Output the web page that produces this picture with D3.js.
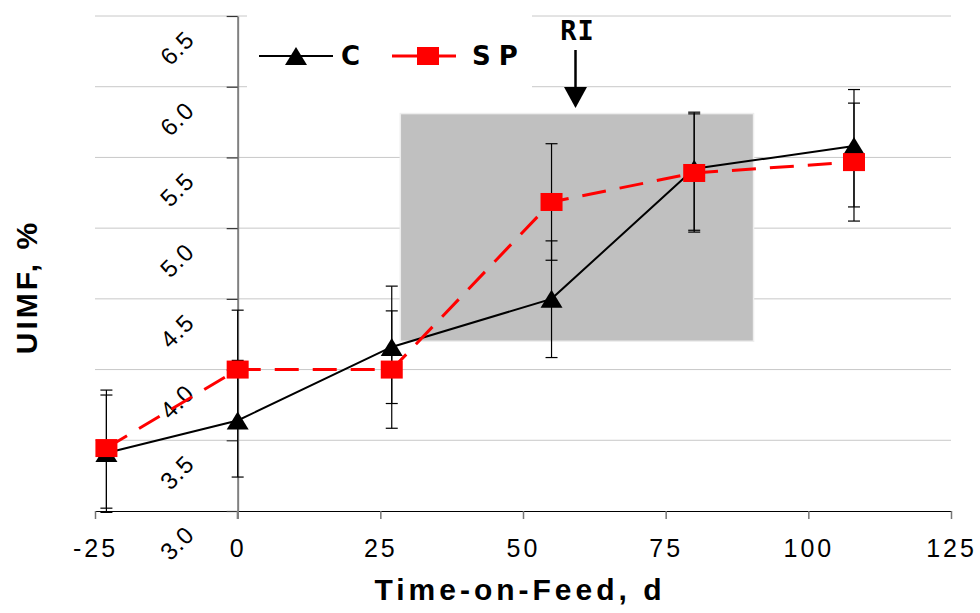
<!DOCTYPE html>
<html>
<head>
<meta charset="utf-8">
<script src="https://cdn.jsdelivr.net/npm/d3@7"></script>
<style>
  html, body { margin: 0; padding: 0; background: #fff; }
  svg { display: block; }
</style>
</head>
<body>
<svg id="chart" width="980" height="613"></svg>
<script>
// Sampling days (time on feed)
const days = [-23, 0, 27, 55, 80, 108];

// Control group: mean UIMF and error bar bounds
const cMean = [3.41, 3.64, 4.16, 4.50, 5.42, 5.58];
const cLow  = [2.99, 3.24, 3.76, 4.085, 4.985, 5.15];
const cHigh = [3.82, 4.065, 4.59, 4.91, 5.82, 5.98];

// SP group: mean UIMF and error bar bounds
const spMean = [3.445, 4.00, 4.00, 5.185, 5.39, 5.467];
const spLow  = [3.02, 3.585, 3.585, 4.773, 4.972, 5.05];
const spHigh = [3.855, 4.42, 4.415, 5.597, 5.808, 5.884];

// Axis ticks
const xTicks = [-25, 0, 25, 50, 75, 100, 125];
const yTicks = [3.0, 3.5, 4.0, 4.5, 5.0, 5.5, 6.0, 6.5];

// Shaded period and RI marker (day)
const shadeDays = [28.5, 90.4];
const shadeRange = [4.2, 5.81];
const riDay = 59.2;

const seriesNames = ["C", "SP"];

const svg = d3.select("#chart");

const x = d3.scaleLinear().domain([-25, 125]).range([95, 951]);
const y = d3.scaleLinear().domain([3.0, 6.5]).range([511, 16]);

const sans = "'Liberation Sans', Arial, sans-serif";

// Horizontal gridlines
svg.append("g")
  .selectAll("line")
  .data(yTicks.slice(1))
  .join("line")
  .attr("x1", x(-25)).attr("x2", x(125))
  .attr("y1", d => y(d)).attr("y2", d => y(d))
  .attr("stroke", "#c8c8c8").attr("stroke-width", 1);

// Shaded period
svg.append("rect")
  .attr("x", x(shadeDays[0]))
  .attr("y", y(shadeRange[1]))
  .attr("width", x(shadeDays[1]) - x(shadeDays[0]))
  .attr("height", y(shadeRange[0]) - y(shadeRange[1]))
  .attr("fill", "#c0c0c0")
  .attr("stroke", "#eeeeee")
  .attr("stroke-width", 1.5);

// Legend background (hides gridlines behind it)
svg.append("rect")
  .attr("x", 247).attr("y", 4).attr("width", 285).attr("height", 100)
  .attr("fill", "#fff");

// X axis
const xAxis = d3.axisBottom(x).tickValues(xTicks).tickSize(8).tickSizeOuter(0)
  .tickFormat(d => String(d));
const gx = svg.append("g").attr("transform", `translate(0,${y(3.0)})`).call(xAxis);
gx.select(".domain").attr("stroke", "#000").attr("stroke-width", 1.2);
gx.selectAll(".tick line").attr("stroke", "#777").attr("stroke-width", 1.5);
gx.selectAll(".tick text")
  .attr("y", 46)
  .attr("dy", 0)
  .style("font-family", sans)
  .style("font-size", "25px")
  .style("letter-spacing", "3px")
  .attr("fill", "#000");

// Y axis drawn at day 0
const yAxis = d3.axisLeft(y).tickValues(yTicks).tickSize(11).tickSizeOuter(0).tickFormat("");
const gy = svg.append("g").attr("transform", `translate(${x(0)},0)`).call(yAxis);
gy.select(".domain").attr("stroke", "#808080").attr("stroke-width", 2);
gy.selectAll(".tick line").attr("stroke", "#333").attr("stroke-width", 1.2);
gy.selectAll(".tick text").remove();
// extend axis line slightly below the x axis
svg.append("line")
  .attr("x1", x(0)).attr("x2", x(0))
  .attr("y1", y(3.0)).attr("y2", y(3.0) + 8)
  .attr("stroke", "#808080").attr("stroke-width", 2);

// Rotated y tick labels
svg.append("g")
  .selectAll("text")
  .data(yTicks)
  .join("text")
  .attr("transform", d => `translate(177,${y(d) + 32}) rotate(-45)`)
  .attr("text-anchor", "middle")
  .attr("dominant-baseline", "central")
  .style("font-family", sans)
  .style("font-size", "24px")
  .style("letter-spacing", "1px")
  .attr("fill", "#000")
  .text(d => d.toFixed(1));

// Axis titles
svg.append("text")
  .attr("x", 520).attr("y", 600)
  .attr("text-anchor", "middle")
  .style("font-family", sans).style("font-weight", "bold")
  .style("font-size", "30px").style("letter-spacing", "4px")
  .text("Time-on-Feed, d");

svg.append("text")
  .attr("transform", "translate(37,287) rotate(-90)")
  .attr("text-anchor", "middle")
  .style("font-family", sans).style("font-weight", "bold")
  .style("font-size", "30px").style("letter-spacing", "3px")
  .text("UIMF, %");

// Error bars
function errorBars(low, high) {
  const g = svg.append("g").attr("stroke", "#000").attr("stroke-width", 1.2);
  days.forEach((d, i) => {
    const cx = x(d);
    g.append("line").attr("x1", cx).attr("x2", cx).attr("y1", y(low[i])).attr("y2", y(high[i]));
    g.append("line").attr("x1", cx - 6).attr("x2", cx + 6).attr("y1", y(low[i])).attr("y2", y(low[i]));
    g.append("line").attr("x1", cx - 6).attr("x2", cx + 6).attr("y1", y(high[i])).attr("y2", y(high[i]));
  });
}
errorBars(cLow, cHigh);
errorBars(spLow, spHigh);

const line = d3.line().x(d => x(d[0])).y(d => y(d[1]));

// Control series
const cPts = days.map((d, i) => [d, cMean[i]]);
svg.append("path")
  .datum(cPts)
  .attr("d", line)
  .attr("fill", "none").attr("stroke", "#000").attr("stroke-width", 2);

const tri = "M0,-9L11,9L-11,9Z";
svg.append("g").selectAll("path")
  .data(cPts)
  .join("path")
  .attr("d", tri)
  .attr("transform", d => `translate(${x(d[0])},${y(d[1])})`)
  .attr("fill", "#000");

// SP series
const spPts = days.map((d, i) => [d, spMean[i]]);
svg.append("path")
  .datum(spPts)
  .attr("d", line)
  .attr("fill", "none").attr("stroke", "#ff0000").attr("stroke-width", 3)
  .attr("stroke-dasharray", "24,14");

svg.append("g").selectAll("rect")
  .data(spPts)
  .join("rect")
  .attr("x", d => x(d[0]) - 11).attr("y", d => y(d[1]) - 9)
  .attr("width", 22).attr("height", 18)
  .attr("fill", "#ff0000");

// Legend
const lg = svg.append("g");
lg.append("line").attr("x1", 259).attr("x2", 333).attr("y1", 56).attr("y2", 56)
  .attr("stroke", "#000").attr("stroke-width", 2);
lg.append("path").attr("d", tri).attr("transform", "translate(296,56)").attr("fill", "#000");
lg.append("text").attr("x", 341).attr("y", 65)
  .style("font-family", "'DejaVu Sans', Verdana, sans-serif").style("font-weight", "bold")
  .style("font-size", "26px").text(seriesNames[0]);

lg.append("line").attr("x1", 392).attr("x2", 456).attr("y1", 56).attr("y2", 56)
  .attr("stroke", "#ff0000").attr("stroke-width", 3);
lg.append("rect").attr("x", 417).attr("y", 47).attr("width", 22).attr("height", 18).attr("fill", "#ff0000");
lg.append("text").attr("x", 472).attr("y", 65)
  .style("font-family", "'DejaVu Sans', Verdana, sans-serif").style("font-weight", "bold")
  .style("font-size", "26px").style("letter-spacing", "8px").text(seriesNames[1]);

// RI marker arrow
const rx = x(riDay);
svg.append("text").attr("x", rx + 2).attr("y", 40)
  .attr("text-anchor", "middle")
  .style("font-family", "'DejaVu Sans Mono', monospace").style("font-weight", "bold")
  .style("font-size", "27px").style("letter-spacing", "1px").text("RI");
svg.append("line").attr("x1", rx).attr("x2", rx).attr("y1", 50).attr("y2", 90)
  .attr("stroke", "#000").attr("stroke-width", 2.5);
svg.append("path")
  .attr("d", `M${rx - 11.5},87L${rx + 11.5},87L${rx},108Z`)
  .attr("fill", "#000");
</script>
</body>
</html>
